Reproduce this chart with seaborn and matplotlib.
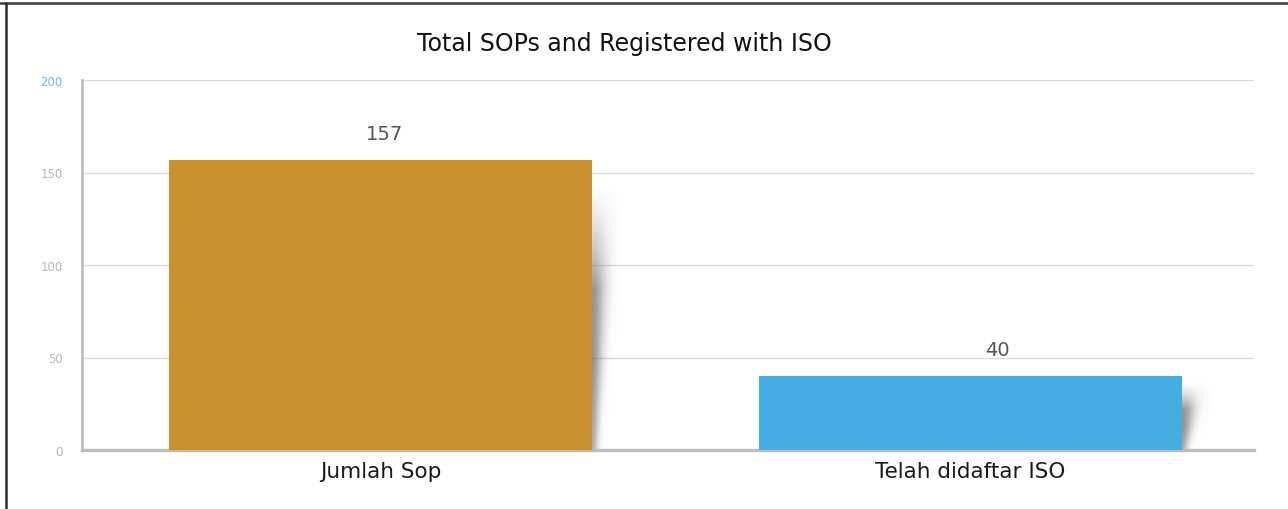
import matplotlib
matplotlib.use("Agg")
import matplotlib.pyplot as plt
from matplotlib.lines import Line2D
import numpy as np
import pandas as pd
import seaborn as sns

# Chart data
categories = ["Jumlah Sop", "Telah didaftar ISO"]
values = [157, 40]
bar_colors = ["#C9902B", "#45ADE1"]
y_ticks = [0, 50, 100, 150, 200]
title = "Total SOPs and Registered with ISO"

sns.set_theme(style="white")
plt.rcParams["font.family"] = ["DejaVu Sans"]

W, H = 1288, 510
fig = plt.figure(figsize=(W / 100, H / 100), dpi=100)
fig.patch.set_facecolor("white")

# axes placed in pixel terms
left, right, top, bottom = 82, 1254, 81, 451
ax = fig.add_axes([left / W, 1 - bottom / H, (right - left) / W, (bottom - top) / H])

df = pd.DataFrame({"category": categories, "value": values})
bar_width = 0.717
sns.barplot(data=df, x="category", y="value", hue="category",
            palette=bar_colors, width=bar_width, saturation=1,
            legend=False, ax=ax, zorder=3, linewidth=0, edgecolor="none")

# soft blurred drop shadow to the right of each bar
px_x = 1 / 590.0      # data units per pixel along x
span_px = 36
for i, v in enumerate(values):
    xr = i + bar_width / 2
    ny, nx = 200, span_px * 2
    t = np.linspace(0, 1, ny)[:, None]            # 0 bottom .. 1 top of bar
    d = np.linspace(0, span_px, nx)[None, :]      # pixel distance from bar edge
    width = 7 + 17 * t
    strength = np.clip((0.93 - t) / 0.38, 0, 1) ** 1.4
    strength *= 0.75 + 0.25 * np.clip(t / 0.3, 0, 1)
    alpha = 0.62 * strength * np.exp(-(d / width) ** 2 * 1.6)
    rgba = np.zeros((ny, nx, 4))
    rgba[..., :3] = 0.33
    rgba[..., 3] = alpha
    ax.imshow(rgba, extent=[xr, xr + span_px * px_x, 0, v], origin="lower",
              aspect="auto", interpolation="bilinear", zorder=2)

ax.set_xlim(-0.506, 1.4805)
ax.set_ylim(0, 200)
ax.set_yticks(y_ticks)
ax.set_xlabel("")
ax.set_ylabel("")

# value labels above bars
label_dx = [4, 27]
for i, v in enumerate(values):
    ax.annotate(str(v), (i, v), xytext=(label_dx[i], 26),
                textcoords="offset pixels", ha="center", va="center",
                fontsize=14, color="#555555", zorder=4)

# grid and spines
ax.yaxis.grid(True, color="#DCDCDC", linewidth=1.0, zorder=0)
ax.xaxis.grid(False)
ax.set_axisbelow(True)
for s in ["top", "right"]:
    ax.spines[s].set_visible(False)
ax.spines["left"].set_color("#C0C0C0")
ax.spines["left"].set_linewidth(2.0)
ax.spines["bottom"].set_color("#BDBDBD")
ax.spines["bottom"].set_linewidth(2.4)

ax.tick_params(axis="y", length=0, pad=14, labelsize=8.5, labelcolor="#B5B5B5")
ax.tick_params(axis="x", length=0, pad=8, labelsize=15.5, labelcolor="#1A1A1A")
for lab in ax.get_yticklabels():
    if lab.get_text() == "200":
        lab.set_color("#6CB9EC")

fig.text(624 / W, 1 - 44 / H, title, ha="center", va="center",
         fontsize=17, color="#111111")

# outer frame lines (top and left edges)
fig.add_artist(Line2D([0, 1], [1 - 3.5 / H, 1 - 3.5 / H],
                      transform=fig.transFigure, color="#3A3A3A", linewidth=1.8))
fig.add_artist(Line2D([6 / W, 6 / W], [0, 1 - 3.5 / H],
                      transform=fig.transFigure, color="#2A2A2A", linewidth=1.8))

fig.savefig("out.png", dpi=100, facecolor="white")
